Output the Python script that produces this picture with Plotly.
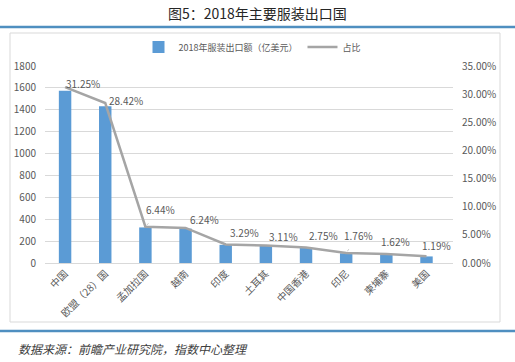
import plotly.graph_objects as go

categories = ["中国", "欧盟（28）国", "孟加拉国", "越南", "印度", "土耳其", "中国香港", "印尼", "柬埔寨", "美国"]
export_values = [1575, 1432, 325, 314, 166, 157, 139, 89, 82, 60]
share_values = [0.3125, 0.2842, 0.0644, 0.0624, 0.0329, 0.0311, 0.0275, 0.0176, 0.0162, 0.0119]
share_labels = ["31.25%", "28.42%", "6.44%", "6.24%", "3.29%", "3.11%", "2.75%", "1.76%", "1.62%", "1.19%"]

FONT = "Noto Sans CJK SC, Microsoft YaHei, sans-serif"
GRAY = "#595959"

# plot area in pixels: x 45..453, y 66..263
L, R, T, B = 45, 453, 66, 263
def px(x):
    return (x - L) / (R - L)
def py(y):
    return (B - y) / (B - T)

fig = go.Figure()
fig.add_trace(go.Bar(
    x=categories, y=export_values, name="2018年服装出口额（亿美元）",
    marker=dict(color="#5b9bd5", line=dict(width=0)), yaxis="y",
))
fig.add_trace(go.Scatter(
    x=categories, y=share_values, name="占比", mode="lines",
    line=dict(color="#a5a5a5", width=2.5), yaxis="y2",
))

# label offsets (pixels) and whether a leader line is drawn
offsets = [(18, -4, False), (21, -3, False), (15, -17, True), (19, -8, False), (19, -12, True),
           (18, -9, False), (17, -12, True), (12, -18, True), (9, -12, True), (10, -11, False)]
for cat, v, lab, (dx, dy, lead) in zip(categories, share_values, share_labels, offsets):
    fig.add_annotation(
        x=cat, y=v, xref="x", yref="y2", text=lab,
        showarrow=lead, arrowhead=0, arrowwidth=0.8, arrowcolor="#bfbfbf",
        ax=dx, ay=dy, standoff=2, startstandoff=6,
        xshift=0 if lead else dx, yshift=0 if lead else -dy,
        font=dict(family=FONT, size=10, color=GRAY),
    )

shapes = [
    dict(type="rect", xref="paper", yref="paper", x0=px(10), x1=px(500), y0=py(322), y1=py(33),
         line=dict(color="#d9d9d9", width=1), fillcolor="rgba(0,0,0,0)", layer="below"),
    dict(type="line", xref="paper", yref="paper", x0=px(0), x1=px(515), y0=py(27), y1=py(27),
         line=dict(color="#4f8fc0", width=2.5)),
    dict(type="line", xref="paper", yref="paper", x0=px(0), x1=px(515), y0=py(331), y1=py(331),
         line=dict(color="#4f8fc0", width=2.5)),
]

fig.add_annotation(x=px(257), y=py(13), xref="paper", yref="paper", showarrow=False,
                   xanchor="center", yanchor="middle",
                   text="图5：2018年主要服装出口国", font=dict(family=FONT, size=14, color="#262626"))
fig.add_annotation(x=px(16), y=py(348), xref="paper", yref="paper", showarrow=False,
                   xanchor="left", yanchor="middle",
                   text="数据来源：前瞻产业研究院，指数中心整理",
                   font=dict(family=FONT, size=12, color="#404040", style="italic"))

fig.update_layout(
    width=515, height=362,
    margin=dict(l=L, r=515 - R, t=T, b=362 - B, autoexpand=False),
    paper_bgcolor="white", plot_bgcolor="white",
    font=dict(family=FONT, size=10, color=GRAY),
    bargap=0.69,
    showlegend=True,
    legend=dict(orientation="h", x=px(252), xanchor="center", y=py(47), yanchor="middle",
                font=dict(family=FONT, size=9, color=GRAY), bgcolor="rgba(0,0,0,0)",
                itemwidth=30),
    xaxis=dict(tickangle=-45, tickfont=dict(size=10, color=GRAY), showline=True,
               linecolor="#d9d9d9", ticks="", showgrid=False),
    yaxis=dict(range=[0, 1800], dtick=200, gridcolor="#d9d9d9", gridwidth=1, zeroline=False,
               tickfont=dict(size=10, color=GRAY), ticks="", ticklabelstandoff=8),
    yaxis2=dict(range=[0, 0.35], dtick=0.05, tickformat=".2%", overlaying="y", side="right",
                showgrid=False, zeroline=False, tickfont=dict(size=10, color=GRAY), ticks="",
                ticklabelstandoff=8),
    shapes=shapes,
)

fig.write_html("out.html", config={"displayModeBar": False},
               post_script="document.body.style.margin='0';document.body.style.overflow='hidden';")
